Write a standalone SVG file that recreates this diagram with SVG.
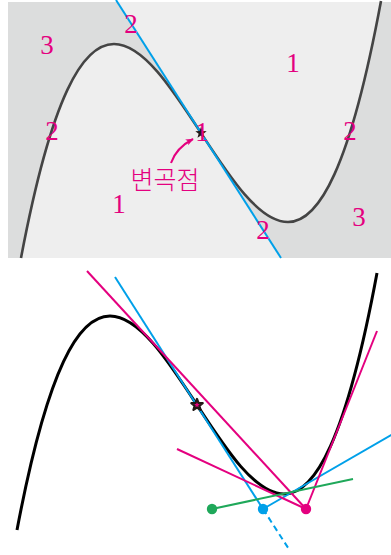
<svg xmlns="http://www.w3.org/2000/svg" width="391" height="555" viewBox="0 0 391 555">
  <style>
    .lbl { font-family: "Liberation Serif", "Times New Roman", serif; font-size: 27px; fill: #e4007f; text-anchor: middle; }
    .kor { font-family: "Noto Sans CJK KR", "Noto Sans", sans-serif; font-size: 25px; font-weight: 300; fill: #e4007f; text-anchor: middle; }
    .curveTop { fill: none; stroke: #444444; stroke-width: 2.6; }
    .curveBot { fill: none; stroke: #000000; stroke-width: 3; }
    .blue { stroke: #00a0e9; stroke-width: 2; fill: none; }
    .mag { stroke: #e4007f; stroke-width: 2; fill: none; }
    .green { stroke: #1fa85a; stroke-width: 2; fill: none; }
    .dark { fill: #dcdddd; }
  </style>
  <defs>
    <clipPath id="bgclip"><rect x="8" y="2" width="383" height="256"/></clipPath>
    <path id="star" d="M0,-6 L1.469,-2.023 L5.706,-1.854 L2.378,0.773 L3.527,4.854 L0,2.5 L-3.527,4.854 L-2.378,0.773 L-5.706,-1.854 L-1.469,-2.023 Z"/>
    <marker id="ah" viewBox="0 0 10 10" refX="9" refY="5" markerWidth="8" markerHeight="8" markerUnits="userSpaceOnUse" orient="auto">
      <path d="M0,1 L10,5 L0,9 L2.5,5 Z" fill="#e4007f"/>
    </marker>
  </defs>

  <!-- Top panel -->
  <g id="top-panel">
    <rect id="bg" x="8" y="2" width="383" height="256" fill="#eeeeee"/>
    <g clip-path="url(#bgclip)">
      <path id="region-left" class="dark" d="M0,0 L116,0 L201,133 C172,88.6 143,44 114,44 C83,44 52,94.4 21,258 L0,262 Z"/>
      <path id="region-right" class="dark" d="M201,133 C230,177.4 259,222 288,222 C319,222 350,168 381,1 L381,-5 L395,-5 L395,262 L281,258 Z"/>
    </g>
    <path id="curve-top" class="curveTop" d="M21,258 C52,94.4 83,44 114,44 C143,44 172,88.6 201,133 C230,177.4 259,222 288,222 C319,222 350,168 381,1"/>
    <g id="connectors-top">
      <line id="tangent-top" class="blue" x1="116" y1="0" x2="281" y2="258"/>
      <path id="arrow" class="mag" stroke-width="1.8" d="M171,163 Q176,148 193,139" marker-end="url(#ah)"/>
    </g>
    <use id="star-top" href="#star" x="201" y="133" fill="#231815"/>
    <g id="labels-top">
      <text class="lbl" x="47" y="54">3</text>
      <text class="lbl" x="131" y="33">2</text>
      <text class="lbl" x="293" y="72">1</text>
      <text class="lbl" x="52" y="140">2</text>
      <text class="lbl" x="202" y="141">1</text>
      <text class="lbl" x="350" y="140">2</text>
      <text class="lbl" x="119" y="213">1</text>
      <text class="lbl" x="263" y="239">2</text>
      <text class="lbl" x="359" y="226">3</text>
      <text class="kor" x="165" y="189">변곡점</text>
    </g>
  </g>

  <!-- Bottom panel -->
  <g id="bottom-panel">
    <path id="curve-bottom" class="curveBot" d="M17,530 C48,366.4 79,316 110,316 C139,316 168,360.6 197,405 C226,449.4 255,494 284,494 C315,494 346,440 377,273"/>
    <g id="connectors-bottom">
      <line id="blue-tangent" class="blue" x1="115" y1="277" x2="263" y2="509"/>
      <line id="blue-dashed" class="blue" stroke-dasharray="6,4" x1="263" y1="509" x2="289.5" y2="550"/>
      <line id="blue-right" class="blue" x1="263" y1="509" x2="393" y2="434"/>
      <line id="mag-1" class="mag" x1="87" y1="271" x2="306" y2="509"/>
      <line id="mag-2" class="mag" x1="177" y1="449" x2="306" y2="509"/>
      <line id="mag-3" class="mag" x1="306" y1="509" x2="377" y2="331"/>
      <line id="green-line" class="green" x1="212" y1="509" x2="353" y2="479"/>
    </g>
    <g id="point-green"><circle cx="212" cy="509" r="5.2" fill="#1fa85a"/></g>
    <g id="point-blue"><circle cx="263" cy="509" r="5.2" fill="#00a0e9"/></g>
    <g id="point-magenta"><circle cx="306" cy="509" r="5.2" fill="#e4007f"/></g>
    <g id="star-bottom"><use href="#star" x="197" y="405" fill="#e4007f" stroke="#231815" stroke-width="2.2" stroke-linejoin="round"/></g>
  </g>
</svg>
